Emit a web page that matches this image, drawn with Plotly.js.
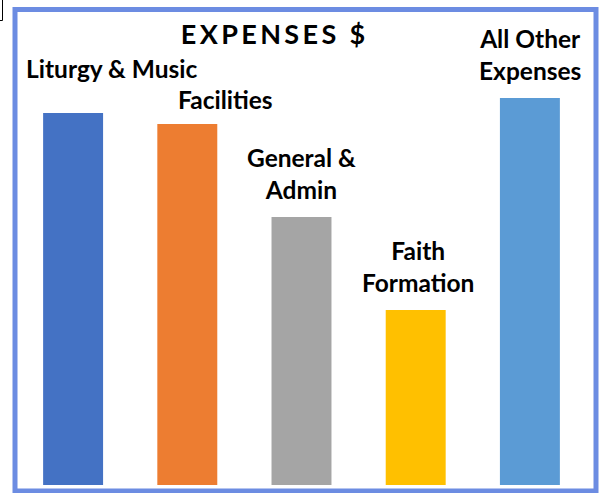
<!DOCTYPE html>
<html>
<head>
<meta charset="utf-8">
<script src="https://cdn.plot.ly/plotly-3.0.1.min.js"></script>
<style>html,body{margin:0;padding:0;background:#fff;}</style>
</head>
<body>
<div id="chart" style="width:603px;height:493px;"></div>
<script>
// Data (relative expense amounts)
var categories = ["Liturgy & Music", "Facilities", "General & Admin", "Faith Formation", "All Other Expenses"];
var labels = ["Liturgy & Music", "Facilities", "General &<br>Admin", "Faith<br>Formation", "All Other<br>Expenses"];
var values = [372, 361, 268, 175, 387];
var colors = ["#4472C4", "#ED7D31", "#A5A5A5", "#FFC000", "#5B9BD5"];
var titleText = "EXPENSES $";

// label offsets (pixels) relative to bar top
var labelXShift = [38, 38, 0, 2, 0];
var labelYShift = [45, 25, 44, 44, 44];

var spaced = titleText.split("").join("\u2009");

var annotations = categories.map(function(c, i) {
  return {
    x: c, y: values[i], xref: "x", yref: "y",
    text: labels[i], showarrow: false,
    xanchor: "center", yanchor: "middle",
    xshift: labelXShift[i], yshift: labelYShift[i],
    align: "center",
    font: {family: "Lato, 'Open Sans', sans-serif", size: 24.5, color: "#000", weight: 700}
  };
});

var trace = {
  type: "bar",
  x: categories,
  y: values,
  marker: {color: colors, line: {width: 0}},
  hoverinfo: "none"
};

var layout = {
  width: 603, height: 493,
  margin: {l: 16, r: 16, t: 0, b: 8, pad: 0},
  paper_bgcolor: "#fff", plot_bgcolor: "rgba(0,0,0,0)",
  showlegend: false,
  bargap: 0.475,
  title: {
    text: spaced, x: 273/603, xref: "container", xanchor: "center",
    y: 1 - 35/493, yref: "container", yanchor: "middle",
    font: {family: "Lato, 'Open Sans', sans-serif", size: 27, color: "#000", weight: 700}
  },
  xaxis: {visible: false, range: [-0.5, 4.5], fixedrange: true},
  yaxis: {visible: false, range: [0, 485], fixedrange: true},
  annotations: annotations,
  shapes: [
    {type: "rect", xref: "paper", yref: "paper", xsizemode: "pixel", ysizemode: "pixel",
     xanchor: 0, yanchor: 1, x0: -1, x1: 580, y0: -491, y1: -9.5,
     line: {color: "#6C8CE2", width: 5}, fillcolor: "rgba(0,0,0,0)", layer: "above"},
    {type: "path", xref: "paper", yref: "paper", xsizemode: "pixel", ysizemode: "pixel",
     xanchor: 0, yanchor: 1, path: "M -17,-20.5 L -13.5,-20.5 L -13.5,0",
     line: {color: "#000", width: 1}}
  ]
};

Plotly.newPlot("chart", [trace], layout, {displayModeBar: false, staticPlot: true});
</script>
</body>
</html>
